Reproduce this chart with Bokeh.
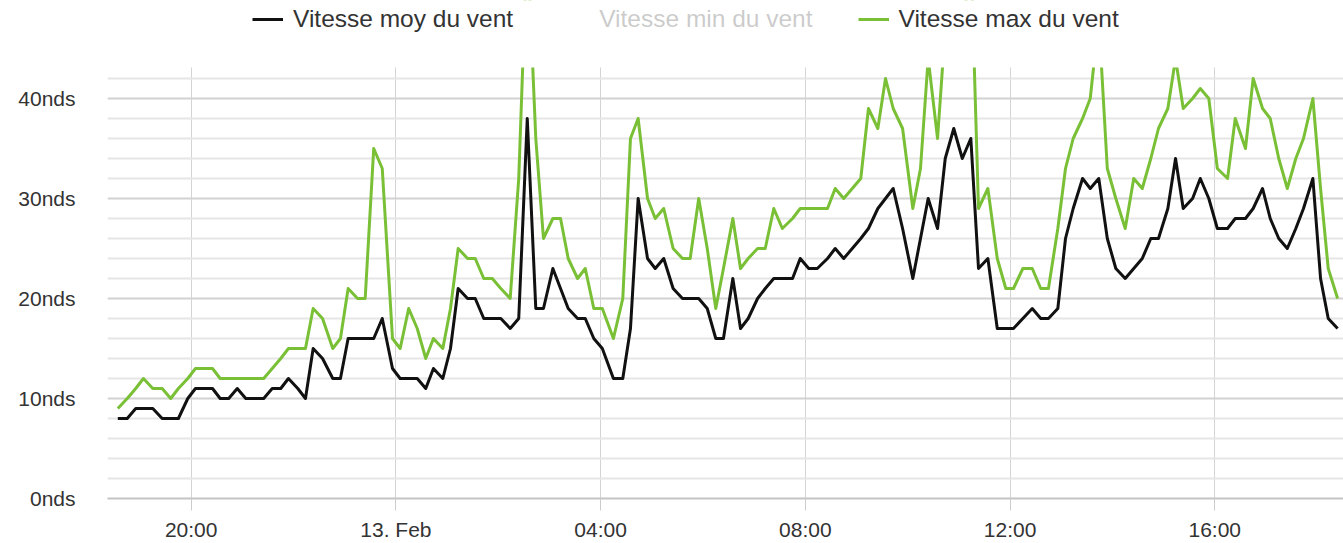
from bokeh.plotting import figure
from bokeh.models import (Range1d, FixedTicker, PrintfTickFormatter, Legend,
                          LegendItem, ColumnDataSource, BoxAnnotation)
from bokeh.embed import file_html
from bokeh.resources import INLINE

# ---- data (12 -> 13 Feb) ----
times = ["18:34","18:45","18:55","19:04","19:15","19:26","19:36","19:45","19:56","20:05",
         "20:14","20:25","20:34","20:44","20:54","21:04","21:14","21:25","21:35","21:45",
         "21:54","22:05","22:14","22:23","22:34","22:46","22:55","23:04","23:15","23:24",
         "23:34","23:44","23:56","00:05","00:15","00:25","00:35","00:44","00:55","01:04",
         "01:13","01:24","01:33","01:43","01:53","02:03","02:14","02:24","02:34","02:44",
         "02:53","03:04","03:13","03:22","03:33","03:42","03:52","04:02","04:15","04:26",
         "04:35","04:44","04:55","05:04","05:14","05:25","05:36","05:45","05:55","06:05",
         "06:15","06:24","06:35","06:44","06:53","07:04","07:13","07:23","07:33","07:45",
         "07:54","08:04","08:14","08:26","08:35","08:45","08:55","09:05","09:14","09:25",
         "09:34","09:43","09:54","10:06","10:15","10:24","10:35","10:44","10:54","11:04",
         "11:14","11:23","11:34","11:45","11:55","12:04","12:15","12:26","12:36","12:45",
         "12:56","13:05","13:14","13:25","13:34","13:44","13:54","14:04","14:15","14:25",
         "14:35","14:45","14:54","15:05","15:14","15:23","15:34","15:43","15:53","16:03",
         "16:15","16:24","16:36","16:45","16:56","17:05","17:15","17:25","17:35","17:44",
         "17:55","18:04","18:13","18:24"]

vent_moy = [8,8,9,9,9,8,8,8,10,11,
            11,11,10,10,11,10,10,10,11,11,
            12,11,10,15,14,12,12,16,16,16,
            16,18,13,12,12,12,11,13,12,15,
            21,20,20,18,18,18,17,18,38,19,
            19,23,21,19,18,18,16,15,12,12,
            17,30,24,23,24,21,20,20,20,19,
            16,16,22,17,18,20,21,22,22,22,
            24,23,23,24,25,24,25,26,27,29,
            30,31,27,22,26,30,27,34,37,34,
            36,23,24,17,17,17,18,19,18,18,
            19,26,29,32,31,32,26,23,22,23,
            24,26,26,29,34,29,30,32,30,27,
            27,28,28,29,31,28,26,25,27,29,
            32,22,18,17]

vent_max = [9,10,11,12,11,11,10,11,12,13,
            13,13,12,12,12,12,12,12,13,14,
            15,15,15,19,18,15,16,21,20,20,
            35,33,16,15,19,17,14,16,15,19,
            25,24,24,22,22,21,20,32,56,36,
            26,28,28,24,22,23,19,19,16,20,
            36,38,30,28,29,25,24,24,30,25,
            19,23,28,23,24,25,25,29,27,28,
            29,29,29,29,31,30,31,32,39,37,
            42,39,37,29,33,44,36,47,48,46,
            55,29,31,24,21,21,23,23,21,21,
            27,33,36,38,40,48,33,30,27,32,
            31,34,37,39,44,39,40,41,40,33,
            32,38,35,42,39,38,34,31,34,36,
            40,31,23,20]

x_ticks = [20, 24, 28, 32, 36, 40]
x_tick_labels = ["20:00", "13. Feb", "04:00", "08:00", "12:00", "16:00"]
y_ticks = [0, 10, 20, 30, 40]
y_minor = [2, 4, 6, 8, 12, 14, 16, 18, 22, 24, 26, 28, 32, 34, 36, 38, 42]
y_max_visible = 43.1
series_labels = ["Vitesse moy du vent", "Vitesse min du vent", "Vitesse max du vent"]


def to_hours(ts):
    out, offset, prev = [], 0, None
    for t in ts:
        hh, mm = map(int, t.split(":"))
        h = hh + mm / 60 + offset
        if prev is not None and h < prev:
            offset += 24
            h += 24
        out.append(h)
        prev = h
    return out


hours = to_hours(times)
src = ColumnDataSource(dict(x=hours, moy=vent_moy, vmax=vent_max))

FONT = "Liberation Sans"

p = figure(width=1343, height=543, output_backend="svg", toolbar_location=None,
           x_range=Range1d(18.365, 42.515), y_range=Range1d(0, 49.8),
           min_border_left=107, min_border_right=0, min_border_top=0,
           min_border_bottom=45)
p.title.visible = False
p.outline_line_color = None
p.background_fill_color = "white"
p.border_fill_color = "white"

# y axis
p.yaxis.ticker = FixedTicker(ticks=y_ticks, minor_ticks=y_minor)
p.yaxis.formatter = PrintfTickFormatter(format="%dnds")
p.yaxis.axis_line_color = None
p.yaxis.major_tick_line_color = None
p.yaxis.minor_tick_line_color = None
p.yaxis.major_tick_out = 0
p.yaxis.major_tick_in = 0
p.yaxis.minor_tick_out = 0
p.yaxis.major_label_standoff = 32
p.yaxis.major_label_text_font = FONT
p.yaxis.major_label_text_font_size = "21px"
p.yaxis.major_label_text_color = "#333333"

p.ygrid.grid_line_color = "#d2d2d2"
p.ygrid.grid_line_width = 2
p.ygrid.minor_grid_line_color = "#e6e6e6"
p.ygrid.minor_grid_line_width = 2

# x axis
p.xaxis.ticker = FixedTicker(ticks=x_ticks)
p.xaxis.major_label_overrides = {t: l for t, l in zip(x_ticks, x_tick_labels)}
p.xaxis.axis_line_color = "#c4c4c4"
p.xaxis.axis_line_width = 2
p.xaxis.major_tick_line_color = "#cccccc"
p.xaxis.major_tick_out = 12
p.xaxis.major_tick_in = 0
p.xaxis.minor_tick_line_color = None
p.xaxis.major_label_standoff = 7
p.xaxis.major_label_text_font = FONT
p.xaxis.major_label_text_font_size = "21px"
p.xaxis.major_label_text_color = "#333333"

p.xgrid.grid_line_color = "#d4d4d4"
p.xgrid.grid_line_width = 1

# series
r_moy = p.line("x", "moy", source=src, line_color="#111111", line_width=3,
               line_join="round")
r_min = p.line(x=[], y=[], line_color="#333333", line_width=3, visible=False)
r_max = p.line("x", "vmax", source=src, line_color="#7ac036", line_width=3,
               line_join="round")

# plot area ends at y_max_visible: white band above it holds the legend
p.add_layout(BoxAnnotation(bottom=y_max_visible, top=-40, top_units="canvas",
                           fill_color="white", fill_alpha=1, line_color=None))

legend = Legend(
    items=[LegendItem(label=series_labels[0], renderers=[r_moy]),
           LegendItem(label=series_labels[1], renderers=[r_min]),
           LegendItem(label=series_labels[2], renderers=[r_max])],
    orientation="horizontal", location=(145, 465), click_policy="hide",
    label_text_font=FONT, label_text_font_size="24.5px", label_text_color="#333333",
    glyph_width=31, glyph_height=28, label_height=28, label_standoff=10,
    spacing=45, padding=0, margin=0, border_line_color=None,
    background_fill_alpha=0, inactive_fill_color="white", inactive_fill_alpha=0.75)
p.add_layout(legend)

open("out.html", "w").write(file_html(p, INLINE))
